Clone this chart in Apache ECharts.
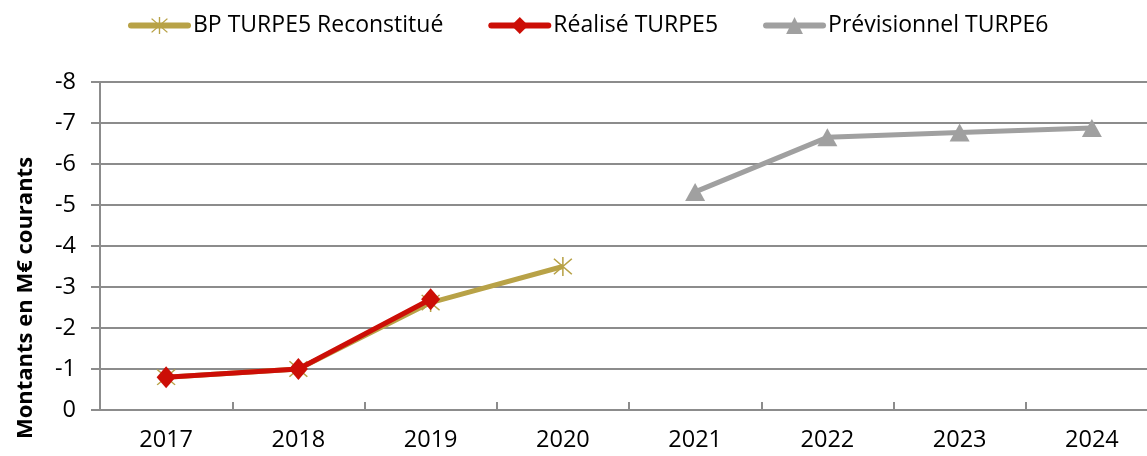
<!DOCTYPE html>
<html><head><meta charset="utf-8">
<script src="https://cdn.jsdelivr.net/npm/echarts@6/dist/echarts.min.js"></script>
<style>html,body{margin:0;padding:0;background:#fff}#c{width:1147px;height:456px}</style>
</head><body><div id="c"></div>
<script>
var categories = ['2017','2018','2019','2020','2021','2022','2023','2024'];
var bpTurpe5 = [-0.8, -1.0, -2.62, -3.5, null, null, null, null];
var realiseTurpe5 = [-0.8, -1.0, -2.7, null, null, null, null, null];
var previsionnelTurpe6 = [null, null, null, null, -5.32, -6.65, -6.77, -6.88];
var seriesNames = ['BP TURPE5 Reconstitué', 'Réalisé TURPE5', 'Prévisionnel TURPE6'];
var yTicks = {min: -8, max: 0, interval: 1};

var FONT = 'Open Sans';
var FS = 23.5;
var starPath = 'path://M9.3 0L10.7 0L10.7 20L9.3 20Z M1.4 2.4L2.4 1.4L18.6 17.6L17.6 18.6Z M17.6 1.4L18.6 2.4L2.4 18.6L1.4 17.6Z';
var chart = echarts.init(document.getElementById('c'), null, {renderer: 'canvas'});
chart.setOption({
  animation: false,
  backgroundColor: '#ffffff',
  textStyle: {fontFamily: FONT},
  legend: {
    top: 14, left: 128, padding: 0,
    itemWidth: 57, itemHeight: 21, itemGap: 45,
    lineStyle: {width: 6, cap: 'round'},
    textStyle: {fontFamily: FONT, fontSize: 23, color: '#000'},
    data: seriesNames
  },
  grid: {left: 100, width: 1058, top: 82, bottom: 46, containLabel: false, outerBoundsMode: 'none'},
  xAxis: {
    type: 'category', data: categories, boundaryGap: true,
    axisLine: {lineStyle: {color: '#8c8c8c', width: 2}},
    axisTick: {show: true, inside: true, length: 8, lineStyle: {color: '#8c8c8c', width: 2}},
    axisLabel: {color: '#000', fontSize: FS, fontFamily: FONT, margin: 18}
  },
  yAxis: {
    type: 'value', inverse: true, min: yTicks.min, max: yTicks.max, interval: yTicks.interval,
    axisLine: {show: true, lineStyle: {color: '#8c8c8c', width: 2}},
    axisTick: {show: true, length: 9, lineStyle: {color: '#8c8c8c', width: 2}},
    axisLabel: {color: '#000', fontSize: FS, fontFamily: FONT, margin: 24},
    splitLine: {show: true, lineStyle: {color: '#8c8c8c', width: 2}}
  },
  graphic: [{
    type: 'text', rotation: Math.PI/2,
    x: 26, y: 298,
    style: {text: 'Montants en M€ courants', font: 'bold 22px "' + FONT + '"', fill: '#000', align: 'center', verticalAlign: 'middle'}
  }],
  series: [
    {name: seriesNames[0], type: 'line', data: bpTurpe5, connectNulls: false,
     symbol: starPath, symbolSize: 19,
     lineStyle: {color: '#B8A247', width: 5},
     itemStyle: {color: '#B8A247'}, z: 2},
    {name: seriesNames[1], type: 'line', data: realiseTurpe5,
     symbol: 'diamond', symbolSize: [19, 22],
     lineStyle: {color: '#CC0E06', width: 5},
     itemStyle: {color: '#CC0E06'}, z: 3},
    {name: seriesNames[2], type: 'line', data: previsionnelTurpe6,
     symbol: 'triangle', symbolSize: [20, 18],
     lineStyle: {color: '#A0A0A0', width: 5},
     itemStyle: {color: '#A0A0A0'}, z: 2}
  ]
});
</script></body></html>
